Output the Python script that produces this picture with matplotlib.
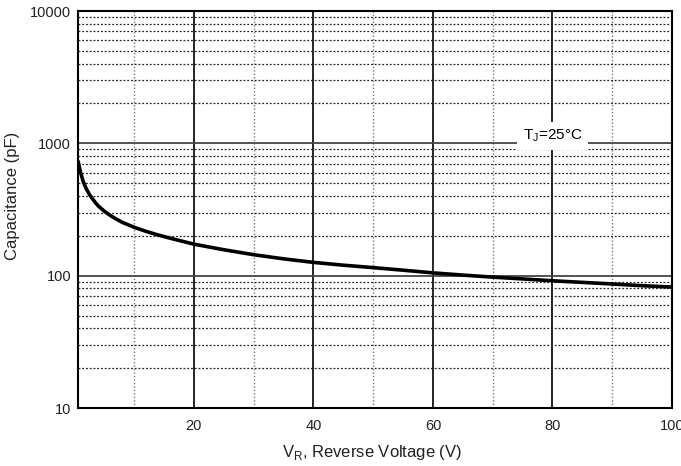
import matplotlib
matplotlib.use('Agg')
import matplotlib.pyplot as plt
from matplotlib.ticker import FixedLocator, NullFormatter, LogLocator

plt.rcParams['font.family'] = ['Liberation Sans', 'DejaVu Sans']

# Reverse voltage (V) and junction capacitance (pF)
v_r = [0.6, 0.8, 1, 1.5, 2, 2.5, 3, 3.5, 4, 5, 6, 7, 8, 10, 12, 14, 16, 20, 25,
       30, 35, 40, 45, 50, 55, 60, 65, 70, 75, 80, 85, 90, 95, 100]
cap = [740, 670, 610, 510, 452, 412, 382, 357, 336, 307, 285, 268, 253, 232,
       216, 203, 192, 173, 157, 144, 134, 126, 120, 115, 110, 105, 101, 97.5,
       94.5, 91.5, 89, 86.5, 84, 82]

x_ticks = [20, 40, 60, 80, 100]
x_minor = [10, 30, 50, 70, 90]
y_ticks = [10, 100, 1000, 10000]

fig = plt.figure(figsize=(6.81, 4.66), dpi=100)
ax = fig.add_axes([78/681, 1-408/466, (672-78)/681, (408-11)/466])

ax.set_yscale('log')
ax.set_xlim(0.6, 100)
ax.set_ylim(10, 10000)

ax.xaxis.set_major_locator(FixedLocator(x_ticks))
ax.xaxis.set_minor_locator(FixedLocator(x_minor))
ax.yaxis.set_major_locator(FixedLocator(y_ticks))
ax.yaxis.set_minor_locator(LogLocator(base=10, subs=range(2, 10)))
ax.yaxis.set_minor_formatter(NullFormatter())
ax.set_yticklabels([str(t) for t in y_ticks])
ax.set_xticklabels([str(t) for t in x_ticks])

ax.tick_params(which='both', length=0, labelsize=10.5, colors='#222222')
ax.tick_params(axis='x', pad=8)
ax.tick_params(axis='y', pad=5)

# grid
ax.grid(axis='x', which='major', color='black', lw=1.2, ls='-')
ax.grid(axis='x', which='minor', color='#777777', lw=1.0, ls=(0, (1, 1.5)))
ax.grid(axis='y', which='major', color='#444444', lw=1.3, ls='-')
ax.grid(axis='y', which='minor', color='#222222', lw=0.9, ls=(0, (1.5, 1.5)))
ax.set_axisbelow(True)

for s in ax.spines.values():
    s.set_linewidth(1.5)
    s.set_color('black')

ax.plot(v_r, cap, color='black', lw=2.6, solid_capstyle='butt', solid_joinstyle='round')

ax.text(80, 1135, 'T$_\\mathregular{J}$=25°C', fontsize=11, ha='center', va='center',
        bbox=dict(facecolor='white', edgecolor='none', pad=4))

fig.text(372/681, 1-457/466, 'V$_\\mathregular{R}$, Reverse Voltage (V)', fontsize=12,
         ha='center', va='baseline', color='#222222')
fig.text(12/681, 1-196/466, 'Capacitance (pF)', fontsize=12, rotation=90,
         ha='center', va='center', color='#222222')

fig.savefig('out.png', dpi=100)
